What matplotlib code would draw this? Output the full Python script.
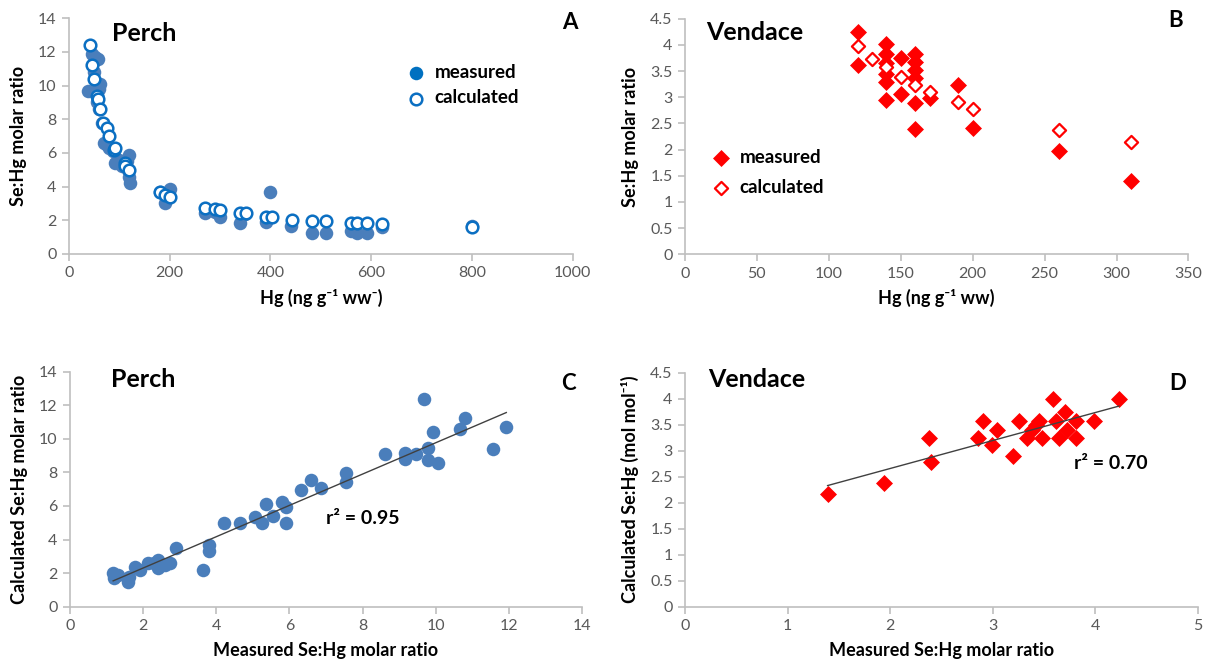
import matplotlib
matplotlib.use("Agg")
import matplotlib.pyplot as plt
import numpy as np

plt.rcParams['font.family'] = ['Lato', 'DejaVu Sans']

# ---- datos: Perch (A) ----
perch_hg_meas = [37, 45, 50, 52, 55, 58, 60, 62, 55, 60, 65, 70, 75, 80, 88, 91, 100, 105,
                 111, 115, 120, 120, 121, 118, 180, 190, 200, 270, 290, 300, 340, 350, 392,
                 400, 440, 483, 511, 560, 572, 592, 622, 801]
perch_ratio_meas = [9.7, 11.9, 10.8, 11.7, 10.0, 11.6, 9.8, 10.1, 9.0, 8.6, 7.8, 6.6, 6.5, 6.3,
                    6.1, 5.4, 5.6, 5.2, 5.2, 5.5, 5.9, 4.6, 4.2, 5.0, 3.7, 3.0, 3.85, 2.41,
                    2.5, 2.18, 1.82, 2.4, 1.92, 3.7, 1.68, 1.23, 1.27, 1.38, 1.27, 1.27, 1.62, 1.65]
perch_hg_calc = [42, 46, 50, 55, 58, 62, 68, 75, 80, 90, 92, 111, 112, 120, 181, 191, 200,
                 270, 290, 300, 340, 352, 392, 403, 443, 483, 511, 560, 572, 592, 622, 801]
perch_ratio_calc = [12.4, 11.2, 10.4, 9.4, 9.2, 8.6, 7.8, 7.5, 7.0, 6.2, 6.3, 5.4, 5.2, 5.0,
                    3.7, 3.5, 3.4, 2.75, 2.67, 2.6, 2.41, 2.45, 2.21, 2.18, 2.02, 1.98, 1.98,
                    1.86, 1.86, 1.82, 1.76, 1.62]

# ---- datos: Vendace (B) ----
vend_hg_meas = [120, 120, 140, 140, 140, 140, 140, 140, 150, 150, 160, 160, 160, 160, 160,
                160, 170, 190, 200, 260, 310]
vend_ratio_meas = [4.24, 3.61, 4.01, 3.83, 3.65, 3.45, 3.29, 2.94, 3.74, 3.07, 3.83, 3.67,
                   3.51, 3.36, 2.88, 2.40, 2.99, 3.23, 2.42, 1.97, 1.40]
vend_hg_calc = [120, 130, 140, 150, 160, 170, 190, 200, 260, 310]
vend_ratio_calc = [3.97, 3.72, 3.58, 3.39, 3.23, 3.10, 2.91, 2.78, 2.37, 2.15]

# ---- datos: Perch medido vs calculado (C) ----
perch_meas = [1.18, 1.2, 1.3, 1.59, 1.6, 1.78, 1.91, 2.14, 2.3, 2.41, 2.41, 2.6, 2.73, 2.91,
              3.64, 3.81, 3.81, 4.21, 4.64, 5.05, 5.26, 5.37, 5.56, 5.81, 5.92, 5.92, 6.33,
              6.6, 6.85, 7.56, 7.56, 8.61, 9.15, 9.15, 9.47, 9.79, 9.79, 9.67, 9.93, 10.06,
              10.66, 10.79, 11.57, 11.93]
perch_calc = [1.99, 1.69, 1.9, 1.49, 1.75, 2.38, 2.19, 2.58, 2.6, 2.78, 2.32, 2.5, 2.62, 3.48,
              2.19, 3.67, 3.34, 4.97, 4.97, 5.32, 4.97, 6.12, 5.4, 6.25, 5.96, 4.97, 6.95,
              7.55, 7.05, 7.94, 7.45, 9.09, 9.17, 8.78, 9.09, 9.43, 8.72, 12.37, 10.39, 8.58,
              10.56, 11.22, 9.39, 10.72]

# ---- datos: Vendace medido vs calculado (D) ----
vend_meas = [1.39, 1.94, 2.38, 2.40, 2.86, 2.90, 2.99, 3.04, 3.2, 3.26, 3.33, 3.38, 3.42,
             3.45, 3.48, 3.59, 3.62, 3.65, 3.70, 3.72, 3.81, 3.81, 3.99, 4.23]
vend_calc = [2.16, 2.37, 3.24, 2.79, 3.24, 3.58, 3.11, 3.40, 2.90, 3.58, 3.24, 3.40, 3.49,
             3.58, 3.24, 3.99, 3.58, 3.24, 3.75, 3.40, 3.58, 3.24, 3.58, 3.99]

BLUE = '#4A7EBB'
BLUE_EDGE = '#0B6FC2'
RED = '#FF0000'
GRID_C = '#BFBFBF'
TXT = '#595959'


def estilo(ax, xlim, ylim, xticks, yticks):
    # ejes estilo Excel: solo izquierda y abajo, gris claro
    for s in ['top', 'right']:
        ax.spines[s].set_visible(False)
    for s in ['left', 'bottom']:
        ax.spines[s].set_color(GRID_C)
        ax.spines[s].set_linewidth(1.2)
    ax.set_xlim(xlim)
    ax.set_ylim(ylim)
    ax.set_xticks(xticks)
    ax.set_yticks(yticks)
    ax.set_xticklabels(['{:g}'.format(t) for t in xticks])
    ax.set_yticklabels(['{:g}'.format(t) for t in yticks])
    ax.tick_params(direction='out', length=5, width=1.2, color=GRID_C,
                   labelsize=11.5, labelcolor=TXT, pad=4)


fig = plt.figure(figsize=(12.13, 6.70), dpi=100)
axA = fig.add_axes([0.0569, 0.6209, 0.4152, 0.3518])
axB = fig.add_axes([0.5647, 0.6204, 0.4151, 0.3518])
axC = fig.add_axes([0.0577, 0.0945, 0.4221, 0.3507])
axD = fig.add_axes([0.5647, 0.0945, 0.4229, 0.3493])

# A
axA.scatter(perch_hg_meas, perch_ratio_meas, s=95, color=BLUE, linewidths=0, zorder=2,
            label='measured')
axA.scatter(perch_hg_calc, perch_ratio_calc, s=70, facecolor='white', edgecolor=BLUE_EDGE,
            linewidths=1.8, zorder=3, label='calculated')
estilo(axA, (0, 1000), (0, 14), np.arange(0, 1001, 200), np.arange(0, 15, 2))
axA.set_xlabel('Hg (ng g\u207b\u00b9 ww\u207b)', fontsize=13, fontweight='bold', labelpad=6)
axA.set_ylabel('Se:Hg molar ratio', fontsize=13, fontweight='bold', labelpad=8)
axA.text(0.085, 0.937, 'Perch', transform=axA.transAxes, fontsize=18, fontweight='bold',
         ha='left', va='center')
axA.text(0.995, 0.981, 'A', transform=axA.transAxes, fontsize=16, fontweight='bold',
         ha='center', va='center')
legA = axA.legend(loc='center left', bbox_to_anchor=(0.670, 0.716), frameon=False,
                  borderaxespad=0, borderpad=0, handlelength=1.0, handletextpad=0.5,
                  labelspacing=0.45, prop={'weight': 'bold', 'size': 13.5})
legA.legend_handles[0].set_color('#0070C0')

# B
axB.scatter(vend_hg_meas, vend_ratio_meas, s=75, marker='D', color=RED, linewidths=0, zorder=2,
            label='measured')
axB.scatter(vend_hg_calc, vend_ratio_calc, s=45, marker='D', facecolor='white', edgecolor=RED,
            linewidths=1.6, zorder=3, label='calculated')
estilo(axB, (0, 350), (0, 4.5), np.arange(0, 351, 50), np.arange(0, 4.51, 0.5))
axB.set_xlabel('Hg (ng g\u207b\u00b9 ww)', fontsize=13, fontweight='bold', labelpad=6)
axB.set_ylabel('Se:Hg molar ratio', fontsize=13, fontweight='bold', labelpad=8)
axB.text(0.042, 0.942, 'Vendace', transform=axB.transAxes, fontsize=18, fontweight='bold',
         ha='left', va='center')
axB.text(0.975, 0.993, 'B', transform=axB.transAxes, fontsize=16, fontweight='bold',
         ha='center', va='center')
axB.legend(loc='center left', bbox_to_anchor=(0.053, 0.346), frameon=False,
           borderaxespad=0, borderpad=0, handlelength=1.0, handletextpad=0.5,
           labelspacing=0.7, prop={'weight': 'bold', 'size': 13.5})

# C
axC.scatter(perch_meas, perch_calc, s=95, color=BLUE, linewidths=0, zorder=2)
pc = np.polyfit(perch_meas, perch_calc, 1)
xc = np.array([min(perch_meas), max(perch_meas)])
axC.plot(xc, np.polyval(pc, xc), color='#404040', lw=1.0, zorder=3)
estilo(axC, (0, 14), (0, 14), np.arange(0, 15, 2), np.arange(0, 15, 2))
axC.set_xlabel('Measured Se:Hg molar ratio', fontsize=13, fontweight='bold', labelpad=6)
axC.set_ylabel('Calculated Se:Hg molar ratio', fontsize=13, fontweight='bold', labelpad=8)
axC.text(0.081, 0.965, 'Perch', transform=axC.transAxes, fontsize=18, fontweight='bold',
         ha='left', va='center')
axC.text(0.973, 0.95, 'C', transform=axC.transAxes, fontsize=16, fontweight='bold',
         ha='center', va='center')
axC.text(7.0, 5.28, 'r\u00b2 = 0.95', fontsize=14, fontweight='bold', ha='left', va='center')

# D
axD.scatter(vend_meas, vend_calc, s=75, marker='D', color=RED, linewidths=0, zorder=2)
pd_ = np.polyfit(vend_meas, vend_calc, 1)
xd = np.array([min(vend_meas), max(vend_meas)])
axD.plot(xd, np.polyval(pd_, xd), color='#404040', lw=1.0, zorder=3)
estilo(axD, (0, 5), (0, 4.5), np.arange(0, 6, 1), np.arange(0, 4.51, 0.5))
axD.set_xlabel('Measured Se:Hg molar ratio', fontsize=13, fontweight='bold', labelpad=6)
axD.set_ylabel('Calculated Se:Hg (mol mol\u207b\u00b9)', fontsize=13, fontweight='bold', labelpad=8)
axD.text(0.045, 0.969, 'Vendace', transform=axD.transAxes, fontsize=18, fontweight='bold',
         ha='left', va='center')
axD.text(0.96, 0.955, 'D', transform=axD.transAxes, fontsize=16, fontweight='bold',
         ha='center', va='center')
axD.text(3.79, 2.76, 'r\u00b2 = 0.70', fontsize=14, fontweight='bold', ha='left', va='center')

fig.savefig('out.png', dpi=100)
